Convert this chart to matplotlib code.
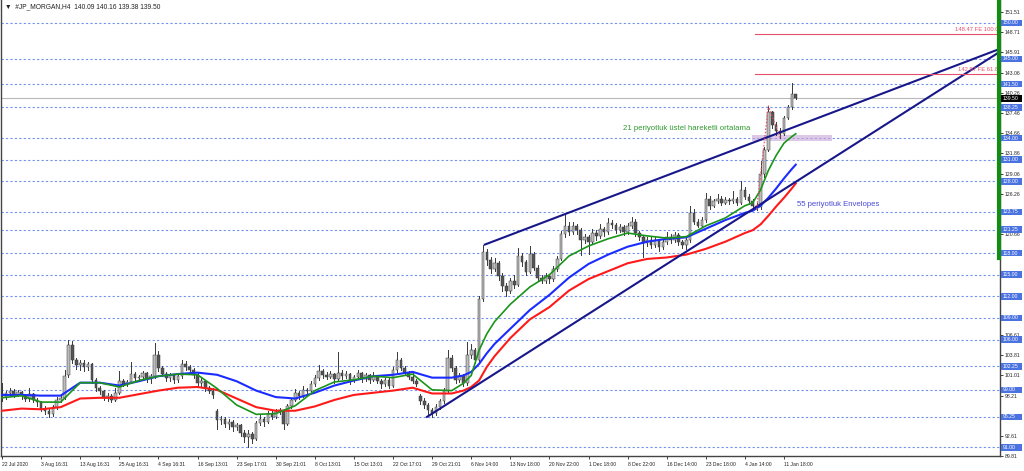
"""
JP Morgan H4 chart (MT4 style): candles, EMA21, 55-period envelopes,
trend channel and a Fibonacci expansion.
"""
import matplotlib
matplotlib.use("Agg")
import matplotlib.pyplot as plt
from matplotlib.patches import Rectangle
from matplotlib.transforms import blended_transform_factory

# ---- H4 candles (bar 0 = 22 Jul 2020) ----
opens = [98.6, 98.0, 98.6, 98.9, 98.3, 98.7, 98.1, 97.7, 98.4, 97.6,
         97.3, 96.4, 96.0, 95.6, 96.6, 97.6, 97.9, 101.0, 105.2, 103.2,
         102.4, 102.8, 102.2, 102.6, 100.4, 99.2, 98.8, 97.9, 98.2, 97.6,
         98.6, 100.2, 99.8, 100.1, 101.2, 100.6, 100.8, 101.3, 100.5, 100.9,
         103.8, 102.0, 101.2, 100.6, 101.0, 100.4, 100.9, 102.6, 102.2, 101.8,
         101.0, 100.0, 100.2, 99.2, 98.9, 96.1, 94.8, 95.0, 94.2, 94.6,
         93.8, 94.1, 93.0, 92.4, 92.9, 92.2, 94.4, 95.0, 94.6, 95.7,
         95.3, 95.9, 96.2, 94.3, 96.8, 97.6, 98.6, 98.2, 99.0, 98.8,
         99.8, 100.6, 101.6, 101.0, 100.8, 101.2, 100.5, 101.4, 100.9, 101.2,
         100.4, 100.8, 101.3, 100.5, 101.0, 100.4, 100.9, 100.2, 99.8, 100.4,
         99.6, 101.8, 103.2, 102.0, 101.4, 100.8, 100.2, 98.2, 97.4, 96.9,
         96.2, 95.8, 96.6, 97.4, 98.9, 103.5, 102.0, 100.4, 100.9, 99.9,
         103.8, 104.5, 103.2, 111.6, 118.2, 117.0, 115.8, 116.6, 114.8, 113.4,
         112.8, 114.2, 113.6, 117.6, 116.8, 115.4, 117.9, 116.0, 114.6, 114.2,
         114.8, 114.4, 115.8, 117.2, 120.6, 121.8, 121.0, 121.8, 121.2, 119.8,
         120.2, 119.6, 120.8, 120.4, 121.4, 120.9, 122.2, 121.9, 121.2, 121.6,
         121.0, 121.8, 122.4, 120.8, 120.2, 119.4, 119.9, 119.2, 119.8, 118.9,
         119.6, 120.2, 119.8, 120.5, 119.6, 119.2, 119.8, 123.6, 122.4, 121.8,
         122.6, 125.6, 124.6, 125.2, 125.6, 125.0, 125.4, 125.2, 125.5, 125.0,
         126.8, 125.8, 125.2, 124.6, 124.4, 129.0, 132.4, 137.6, 135.8, 135.0,
         134.6, 136.8, 138.3, 140.09]
highs = [99.9, 98.9, 99.3, 99.1, 99.0, 98.9, 98.4, 99.2, 98.6, 97.9,
         97.5, 96.8, 96.3, 96.9, 98.0, 98.4, 101.8, 106.0, 105.8, 103.4,
         103.2, 103.1, 102.9, 102.8, 100.6, 99.6, 99.0, 98.5, 98.4, 99.2,
         101.6, 100.5, 100.4, 102.9, 101.5, 101.1, 101.6, 101.5, 101.2, 105.5,
         104.4, 102.3, 101.5, 101.4, 101.2, 101.3, 103.2, 103.0, 102.5, 102.0,
         101.3, 100.6, 100.4, 99.6, 99.2, 96.3, 95.4, 95.2, 94.9, 94.8,
         94.4, 94.3, 93.4, 93.4, 93.1, 94.7, 95.5, 95.3, 96.1, 96.2,
         96.4, 96.5, 96.4, 97.1, 97.9, 99.1, 98.9, 99.5, 99.3, 100.2,
         101.0, 102.4, 101.9, 101.5, 101.6, 101.4, 104.3, 101.7, 101.6, 101.4,
         101.1, 101.8, 101.5, 101.4, 101.2, 101.5, 101.1, 100.5, 100.7, 100.6,
         102.2, 104.3, 103.5, 102.3, 101.6, 101.3, 100.5, 98.4, 97.9, 97.2,
         96.5, 97.0, 97.8, 99.3, 104.6, 103.8, 102.3, 101.4, 101.2, 105.6,
         105.4, 104.8, 112.0, 119.2, 118.6, 117.4, 117.3, 116.9, 115.2, 113.8,
         114.6, 114.9, 118.7, 118.0, 117.1, 119.0, 118.2, 116.3, 115.0, 115.3,
         115.1, 116.2, 117.6, 121.1, 123.3, 122.3, 122.3, 122.1, 121.5, 120.7,
         120.5, 121.3, 121.2, 122.0, 121.7, 122.9, 122.6, 122.2, 122.0, 121.9,
         122.2, 123.0, 122.7, 121.1, 120.5, 120.3, 120.2, 120.3, 120.0, 120.0,
         120.9, 120.6, 121.0, 120.8, 119.9, 120.2, 124.6, 124.2, 122.8, 123.0,
         126.4, 126.0, 125.6, 126.2, 125.9, 125.8, 125.7, 126.6, 125.8, 128.1,
         127.2, 126.2, 125.5, 125.0, 130.8, 132.8, 138.4, 137.8, 136.3, 135.4,
         137.0, 138.6, 141.7, 140.16]
lows = [97.4, 97.8, 98.3, 98.0, 98.1, 97.8, 97.4, 97.5, 97.3, 96.8,
        96.1, 95.6, 95.3, 95.4, 96.4, 97.3, 97.7, 100.8, 102.8, 101.9,
        101.8, 101.6, 101.7, 100.0, 98.9, 98.4, 97.6, 97.4, 97.3, 97.5,
        98.4, 99.5, 99.5, 99.9, 100.3, 100.2, 100.5, 100.1, 100.0, 100.7,
        101.6, 100.9, 100.2, 100.3, 100.0, 100.1, 100.7, 101.8, 101.4, 100.6,
        99.6, 99.6, 98.8, 98.5, 97.9, 93.6, 94.3, 93.8, 93.6, 93.3,
        93.4, 92.6, 91.8, 91.0, 91.6, 92.0, 94.1, 94.0, 94.4, 95.0,
        95.1, 95.6, 93.6, 94.1, 96.5, 97.4, 97.8, 98.0, 98.5, 98.6,
        99.6, 100.4, 100.7, 100.5, 100.6, 100.0, 100.3, 100.5, 100.6, 99.8,
        100.1, 100.6, 100.1, 100.2, 100.0, 100.2, 99.9, 99.3, 99.6, 99.3,
        99.4, 101.5, 101.7, 101.0, 100.5, 99.9, 99.5, 97.0, 96.5, 95.6,
        95.2, 95.5, 96.3, 97.2, 98.7, 101.6, 100.0, 100.1, 99.5, 99.7,
        103.4, 102.8, 103.0, 111.3, 116.3, 115.2, 115.5, 114.3, 112.8, 112.0,
        112.5, 113.1, 113.4, 116.2, 114.9, 115.2, 115.6, 114.2, 113.8, 113.9,
        113.9, 114.2, 115.5, 117.0, 120.3, 120.5, 120.7, 120.6, 117.8, 119.4,
        117.9, 119.3, 119.9, 120.1, 120.4, 120.7, 121.5, 120.8, 120.9, 120.5,
        120.7, 121.5, 120.4, 119.8, 117.4, 119.0, 118.7, 118.9, 118.3, 118.6,
        119.3, 119.4, 119.6, 119.2, 118.7, 118.6, 119.6, 122.0, 121.6, 121.6,
        122.4, 124.2, 124.4, 125.0, 124.7, 124.8, 124.9, 125.0, 124.7, 124.9,
        125.5, 124.9, 124.4, 124.0, 124.2, 128.6, 132.2, 135.4, 134.4, 134.0,
        134.4, 136.6, 138.1, 139.38]
closes = [98.0, 98.6, 98.9, 98.3, 98.7, 98.1, 97.7, 98.4, 97.6, 97.3,
          96.4, 96.0, 95.6, 96.6, 97.6, 97.9, 100.9, 105.2, 103.2, 102.4,
          102.8, 102.2, 102.6, 100.4, 99.2, 98.8, 97.9, 98.2, 97.6, 98.6,
          100.2, 99.8, 100.1, 101.2, 100.6, 100.8, 101.3, 100.5, 100.9, 103.8,
          102.0, 101.2, 100.6, 101.0, 100.4, 100.9, 102.6, 102.2, 101.8, 101.0,
          100.0, 100.2, 99.2, 98.9, 98.3, 94.8, 95.0, 94.2, 94.6, 93.8,
          94.1, 93.0, 92.4, 92.9, 92.2, 94.4, 95.0, 94.6, 95.7, 95.3,
          95.9, 96.2, 94.3, 96.8, 97.6, 98.6, 98.2, 99.0, 98.8, 99.8,
          100.6, 101.6, 101.0, 100.8, 101.2, 100.5, 101.4, 100.9, 101.2, 100.4,
          100.8, 101.3, 100.5, 101.0, 100.4, 100.9, 100.2, 99.8, 100.4, 99.6,
          101.8, 103.2, 102.0, 101.4, 100.8, 100.2, 99.8, 97.4, 96.9, 96.2,
          95.8, 96.6, 97.4, 98.9, 103.5, 102.0, 100.4, 100.9, 99.9, 103.8,
          104.5, 103.2, 111.6, 118.2, 117.0, 115.8, 116.6, 114.8, 113.4, 112.8,
          114.2, 113.6, 117.6, 116.8, 115.4, 117.9, 116.0, 114.6, 114.2, 114.8,
          114.4, 115.8, 117.2, 120.6, 121.8, 121.0, 121.8, 121.2, 119.8, 120.2,
          119.6, 120.8, 120.4, 121.4, 120.9, 122.2, 121.9, 121.2, 121.6, 121.0,
          121.8, 122.4, 120.8, 120.2, 119.4, 119.9, 119.2, 119.8, 118.9, 119.6,
          120.2, 119.8, 120.5, 119.6, 119.2, 119.8, 123.6, 122.4, 121.8, 122.6,
          125.6, 124.6, 125.2, 125.6, 125.0, 125.4, 125.2, 125.5, 125.0, 126.8,
          125.8, 125.2, 124.6, 124.4, 129.0, 132.4, 137.6, 135.8, 135.0, 134.6,
          136.8, 138.3, 140.09, 139.50]

date_labels = ["22 Jul 2020", "3 Aug 16:31", "13 Aug 16:31", "25 Aug 16:31",
               "4 Sep 16:31", "16 Sep 13:01", "23 Sep 17:01", "30 Sep 21:01",
               "8 Oct 13:01", "15 Oct 13:01", "22 Oct 17:01", "29 Oct 21:01",
               "6 Nov 14:00", "13 Nov 18:00", "20 Nov 22:00", "1 Dec 18:00",
               "8 Dec 22:00", "16 Dec 14:00", "23 Dec 18:00", "4 Jan 14:00",
               "11 Jan 18:00"]
date_bars = [10 * k for k in range(len(date_labels))]

# indicator lines, sampled along the bars
ma_idx = [0, 5, 10, 15, 20, 25, 30, 35, 40, 45, 50, 55, 60, 65, 70, 75, 80,
          85, 90, 95, 100, 105, 110, 115, 118, 120, 122, 124, 126, 130, 135,
          140, 145, 150, 155, 160, 165, 170, 175, 180, 185, 190, 192, 194,
          196, 198, 200, 202, 203]
ema21 = [97.9, 98.2, 97.3, 97.3, 100.0, 100.0, 99.4, 100.3, 100.9, 101.2,
         101.1, 99.2, 96.9, 95.6, 95.7, 96.8, 98.9, 100.1, 100.4, 100.9,
         100.7, 101.2, 99.0, 98.9, 99.9, 101.0, 104.5, 106.8, 108.5, 110.9,
         113.3, 115.0, 117.6, 119.0, 120.0, 120.8, 120.4, 120.1, 120.3, 121.8,
         122.9, 124.6, 125.0, 126.8, 129.5, 131.6, 133.3, 134.2, 134.6]
env_upper = [98.3, 98.3, 98.2, 98.2, 100.0, 100.0, 99.6, 100.2, 100.9, 101.2,
             101.4, 101.1, 100.2, 98.9, 98.0, 97.8, 98.6, 99.6, 100.3, 100.9,
             101.1, 101.5, 100.7, 100.7, 101.0, 101.5, 102.6, 104.1, 105.4,
             107.5, 110.1, 112.2, 114.6, 116.5, 117.8, 118.9, 119.6, 120.0,
             120.2, 121.4, 122.6, 123.6, 123.9, 124.6, 125.7, 127.0, 128.4,
             129.7, 130.3]
env_lower = [96.1, 96.4, 96.3, 96.6, 97.8, 97.9, 97.9, 98.4, 98.9, 99.3,
             99.4, 99.0, 97.8, 96.6, 96.1, 96.1, 96.7, 97.6, 98.3, 98.6,
             98.9, 99.3, 98.5, 98.5, 98.9, 99.4, 100.3, 102.2, 103.7, 106.2,
             108.8, 110.5, 112.8, 114.4, 115.5, 116.6, 117.2, 117.4, 117.8,
             118.6, 119.6, 120.8, 121.2, 122.0, 123.2, 124.5, 125.7, 127.0,
             127.7]

level_lines = [150.00, 145.00, 141.50, 138.25, 134.00, 131.00, 128.00, 123.75,
               121.25, 118.00, 115.00, 112.00, 109.00, 106.00, 102.25, 99.00,
               95.25, 91.00]
# plain scale labels that are not hidden behind a level box
scale_ticks = [151.51, 148.71, 145.91, 143.06, 140.26, 137.46, 134.66, 131.86,
               129.06, 126.26, 120.66, 106.61, 103.81, 101.01, 98.21, 92.61,
               89.81]
last_price = 139.50

# trend channel (bar index, price)
upper_line_x = [123.5, 255.2]
upper_line_y = [119.2, 146.4]
lower_line_x = [108.7, 255.2]
lower_line_y = [95.25, 146.0]

# fibonacci expansion A-B-C and its levels
fe_x = [193, 196, 199]
fe_y = [124.07, 138.47, 134.07]
fe_levels = [148.47, 142.97]
fe_names = ["148.47 FE 100.0", "142.97 FE 61.8"]

XMIN, XMAX = -0.26, 255.24
YMIN, YMAX = 89.86, 153.19
FONT = "Liberation Sans"


def price_box(ax, tr, price, color, z):
    # MT4-style filled price tag on the right scale
    ax.add_patch(Rectangle((1.0006, price - 0.46), 0.021, 0.92,
                           transform=tr, facecolor=color, edgecolor="none",
                           clip_on=False, zorder=z))
    ax.text(1.0028, price, f"{price:.2f}", transform=tr, ha="left",
            va="center", fontsize=3.7, family=FONT, color="white",
            clip_on=False, zorder=z + 1)


def main():
    fig = plt.figure(figsize=(10.24, 4.71), dpi=100)
    ax = fig.add_axes([1 / 1024, 15 / 471, 999 / 1024, 456 / 471])
    ax.set_xlim(XMIN, XMAX)
    ax.set_ylim(YMIN, YMAX)

    for lv in level_lines:
        ax.axhline(lv, color="#7393ea", lw=0.8, ls=(0, (2, 2)), zorder=1)
    ax.axhline(last_price, color="#b8b8b8", lw=0.8, zorder=1)

    # candles
    for i, (o, h, l, c) in enumerate(zip(opens, highs, lows, closes)):
        ax.plot([i, i], [l, h], color="#383838", lw=0.7, zorder=3)
        up = c >= o
        body = max(abs(c - o), 0.1)
        ax.add_patch(Rectangle((i - 0.33, min(o, c)), 0.66, body,
                               facecolor="#bdbdbd" if up else "#555555",
                               edgecolor="#383838", lw=0.35, zorder=4))

    ax.plot(ma_idx, env_lower, color="#ff1a1a", lw=1.5, zorder=5)
    ax.plot(ma_idx, env_upper, color="#1a2cff", lw=1.5, zorder=5)
    ax.plot(ma_idx, ema21, color="#1a941a", lw=1.2, zorder=5)

    ax.plot(upper_line_x, upper_line_y, color="#17178a", lw=1.5, zorder=6)
    ax.plot(lower_line_x, lower_line_y, color="#17178a", lw=1.5, zorder=6)

    # fibonacci expansion
    ax.plot(fe_x, fe_y, color="#e8506a", lw=0.8, ls=(0, (1.5, 1.5)), zorder=6)
    tr = blended_transform_factory(ax.transAxes, ax.transData)
    for lv, name in zip(fe_levels, fe_names):
        ax.plot([192.6, XMAX], [lv, lv], color="#e8506a", lw=0.8, zorder=6)
        ax.text(0.998, lv + 0.25, name, transform=tr, ha="right", va="bottom",
                fontsize=4.2, color="#e8506a", family=FONT, zorder=7)

    ax.add_patch(Rectangle((191.8, 133.55), 20.5, 0.85, facecolor="#c7a6d8",
                           alpha=0.6, edgecolor="none", zorder=2))

    ax.text(158.8, 135.3, "21 periyotluk üstel hareketli ortalama",
            color="#2f9a2f", fontsize=5.6, family=FONT, va="center", zorder=7)
    ax.text(203.3, 124.7, "55 periyotluk Envelopes",
            color="#4a4ad6", fontsize=5.6, family=FONT, va="center", zorder=7)

    # right edge marker
    ax.plot([XMAX - 0.3, XMAX - 0.3], [117.36, YMAX], color="#128c12", lw=3,
            clip_on=False, zorder=8)

    # axes / scales
    ax.spines["top"].set_visible(False)
    for side in ("left", "right", "bottom"):
        ax.spines[side].set_color("#444444")
        ax.spines[side].set_linewidth(1.0)
    ax.yaxis.tick_right()
    ax.set_yticks(scale_ticks)
    ax.set_yticklabels([f"{v:.2f}" for v in scale_ticks], family=FONT,
                       fontsize=3.7)
    ax.tick_params(axis="y", length=2, width=0.6, pad=1.5, colors="#222222")
    ax.set_xticks(date_bars)
    ax.set_xticklabels(date_labels, family=FONT, fontsize=3.6, ha="left")
    ax.tick_params(axis="x", length=2.5, width=0.6, pad=1.5, colors="#222222")

    for lv in level_lines:
        price_box(ax, tr, lv, "#4a72e0", 9)
    price_box(ax, tr, last_price, "black", 11)

    fig.text(5 / 1024, 1 - 7 / 471,
             "\u25bc  #JP_MORGAN,H4  140.09 140.16 139.38 139.50",
             fontsize=4.8, family=["Liberation Sans", "DejaVu Sans"],
             va="center", color="#222222")

    fig.savefig("out.png", dpi=100, facecolor="white")


if __name__ == "__main__":
    main()
